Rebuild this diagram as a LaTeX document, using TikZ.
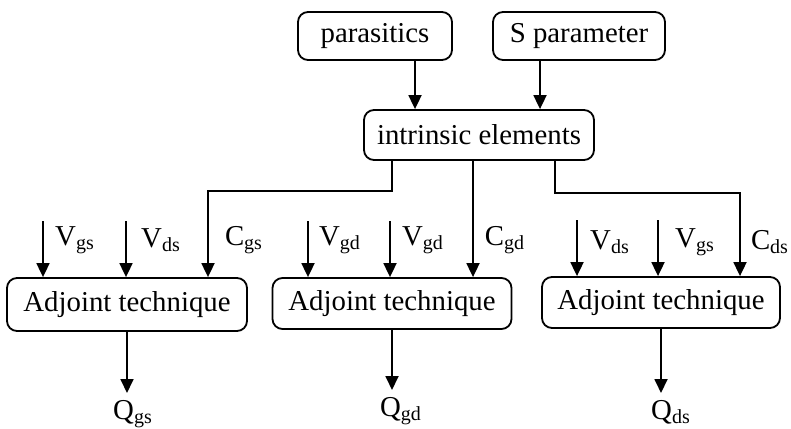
\documentclass[tikz,border=0pt]{standalone}
\usepackage{fontspec}
\setmainfont{Liberation Serif}
\usetikzlibrary{arrows.meta}
\tikzset{box/.style={draw, rounded corners=5pt, line width=0.9pt, inner sep=0pt,
   font=\fontsize{14.4}{17}\selectfont},
 arr/.style={line width=0.9pt, -{Triangle[length=7pt,width=6.5pt]}},
 lbl/.style={font=\fontsize{14.4}{17}\selectfont, inner sep=0pt},
 qlbl/.style={font=\fontsize{14.4}{17}\selectfont, inner sep=3.5pt, anchor=north},
 }

\begin{document}
\begin{tikzpicture}[x=0.5pt,y=-0.5pt]
        \useasboundingbox (0,0) rectangle (791,428);
        % inputs and extraction
        \node[box, minimum width=77pt, minimum height=24pt] (para) at (375,36) {parasitics};
        \node[box, minimum width=86pt, minimum height=24pt] (spar) at (579,36) {S parameter};
        \node[box, minimum width=115pt, minimum height=25pt] (intr) at (479,135) {intrinsic elements};
        \draw[arr] (para.south -| 415,0) -- (intr.north -| 415,0);
        \draw[arr] (para.south -| 540,0) -- (intr.north -| 540,0);
        % three adjoint blocks
        \node[box, minimum width=120pt, minimum height=26.5pt] (adj1) at (127,304.5) {Adjoint technique};
        \node[box, minimum width=119.5pt, minimum height=25.5pt] (adj2) at (392,303.5) {Adjoint technique};
        \node[box, minimum width=119pt, minimum height=25.5pt] (adj3) at (661,302.5) {Adjoint technique};
        % voltage inputs
        \coordinate (vgs1) at (43,221);
        \coordinate (vds1) at (126,221);
        \coordinate (vgd2) at (308,221);
        \coordinate (vgdb) at (390,221);
        \coordinate (vds3) at (577,220);
        \coordinate (vgs3) at (658,220);
        \foreach \v/\b in {vgs1/adj1, vds1/adj1, vgd2/adj2, vgdb/adj2, vds3/adj3, vgs3/adj3}
          \draw[arr] (\v) -- (\v |- \b.north);
        % capacitances from the intrinsic block
        \coordinate (k1) at (392,191);
        \coordinate (cgs) at (208,191);
        \coordinate (cgd) at (473,160);
        \coordinate (k3) at (555,193);
        \coordinate (cds) at (740,193);
        \draw[arr] (intr.south -| k1) -- (k1) -- (cgs) -- (cgs |- adj1.north);
        \draw[arr] (intr.south -| cgd) -- (cgd |- adj2.north);
        \draw[arr] (intr.south -| k3) -- (k3) -- (cds) -- (cds |- adj3.north);
        % labels
        \node[lbl] (lvgs1) at (75,240) {V\textsubscript{gs}};
        \node[lbl] (lvds1) at (161,240) {V\textsubscript{ds}};
        \node[lbl] (lcgs) at (244,240) {C\textsubscript{gs}};
        \node[lbl] (lvgd2) at (340,240) {V\textsubscript{gd}};
        \node[lbl] (lvgdb) at (423,240) {V\textsubscript{gd}};
        \node[lbl] (lcgd) at (505,240) {C\textsubscript{gd}};
        \node[lbl] (lvds3) at (610,242) {V\textsubscript{ds}};
        \node[lbl] (lvgs3) at (695,242) {V\textsubscript{gs}};
        \node[lbl] (lcds) at (770,242) {C\textsubscript{ds}};
        % outputs
        \node[qlbl] (qgs) at (133,393) {Q\textsubscript{gs}};
        \node[qlbl] (qgd) at (401,390) {Q\textsubscript{gd}};
        \node[qlbl] (qds) at (671,393) {Q\textsubscript{ds}};
        \draw[arr] (adj1.south) -- (adj1.south |- qgs.north);
        \draw[arr] (adj2.south) -- (adj2.south |- qgd.north);
        \draw[arr] (adj3.south) -- (adj3.south |- qds.north);
\end{tikzpicture}
\end{document}
